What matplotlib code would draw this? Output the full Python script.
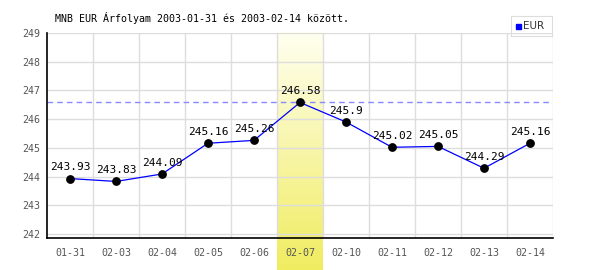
import numpy as np
import matplotlib
matplotlib.use("Agg")
import matplotlib.pyplot as plt
from matplotlib.patches import Rectangle

# árfolyam adatok
dates = ['01-31', '02-03', '02-04', '02-05', '02-06', '02-07',
         '02-10', '02-11', '02-12', '02-13', '02-14']
eur = [243.93, 243.83, 244.09, 245.16, 245.26, 246.58,
       245.9, 245.02, 245.05, 244.29, 245.16]
point_labels = ['243.93', '243.83', '244.09', '245.16', '245.26', '246.58',
                '245.9', '245.02', '245.05', '244.29', '245.16']
y_ticks = [242, 243, 244, 245, 246, 247, 248, 249]
title = 'MNB EUR Árfolyam 2003-01-31 és 2003-02-14 között.'

MONO = 'DejaVu Sans Mono'
plt.rcParams['font.family'] = MONO

fig = plt.figure(figsize=(6, 2.7), dpi=100)
W, H = 600, 270
ax = fig.add_axes([47 / W, 1 - 238 / H, 506 / W, 205 / H])

n = len(dates)
x = np.arange(n)
ax.set_xlim(-0.5, n - 0.5)
ax.set_ylim(241.86, 249.0)

# kiemelt nap (max) sáv, színátmenettel
imax = int(np.argmax(eur))
grad = np.linspace(0, 1, 256).reshape(-1, 1)
band_ax = fig.add_axes([(47 + imax * 46) / W, 0, 46 / W, 1 - 32 / H], zorder=0)
band_ax.imshow(grad, aspect='auto', origin='upper',
               cmap=matplotlib.colors.LinearSegmentedColormap.from_list(
                   'yl', ['#fffff0', '#f0ec60']),
               extent=[0, 1, 0, 1])
band_ax.axis('off')
ax.set_zorder(1)
ax.patch.set_alpha(0)

# rács
for b in np.arange(-0.5, n, 1.0)[1:]:
    ax.axvline(b, color='#dddddd', lw=1, zorder=1)
for t in y_ticks:
    ax.axhline(t, color='#dddddd', lw=1, zorder=1)

ax.axhline(max(eur), color='#8888ff', lw=1, ls=(0, (4, 3)), zorder=2)

ax.plot(x, eur, color='#0000ff', lw=0.9, zorder=3)
ax.scatter(x, eur, s=28, color='black', zorder=4)
for xi, yi, lab in zip(x, eur, point_labels):
    ax.text(xi, yi + 0.22, lab, ha='center', va='bottom', fontsize=8,
            color='black', zorder=5)

ax.set_xticks(x)
ax.set_xticklabels(dates)
ax.set_yticks(y_ticks)
ax.tick_params(axis='both', length=0, labelsize=7.2, colors='#555555')
ax.tick_params(axis='x', pad=7)
ax.tick_params(axis='y', pad=5)

for s in ['top', 'right']:
    ax.spines[s].set_visible(False)
ax.spines['left'].set_color('black')
ax.spines['bottom'].set_color('black')
ax.spines['left'].set_linewidth(1.2)
ax.spines['bottom'].set_linewidth(1.2)

fig.text(55 / W, 1 - 18 / H, title, fontsize=7.2, color='black',
         ha='left', va='center')

# jelmagyarázat
leg = fig.add_axes([511 / W, 1 - 36 / H, 41 / W, 20 / H])
leg.set_xlim(0, 41)
leg.set_ylim(0, 20)
leg.set_xticks([])
leg.set_yticks([])
for s in leg.spines.values():
    s.set_color('#dddddd')
leg.add_patch(Rectangle((5, 7), 5, 5, color='#0000ff'))
leg.text(12, 10, 'EUR', fontsize=7.5, color='#333333', va='center', ha='left',
         family='DejaVu Sans')

fig.savefig('out.png', dpi=100)
